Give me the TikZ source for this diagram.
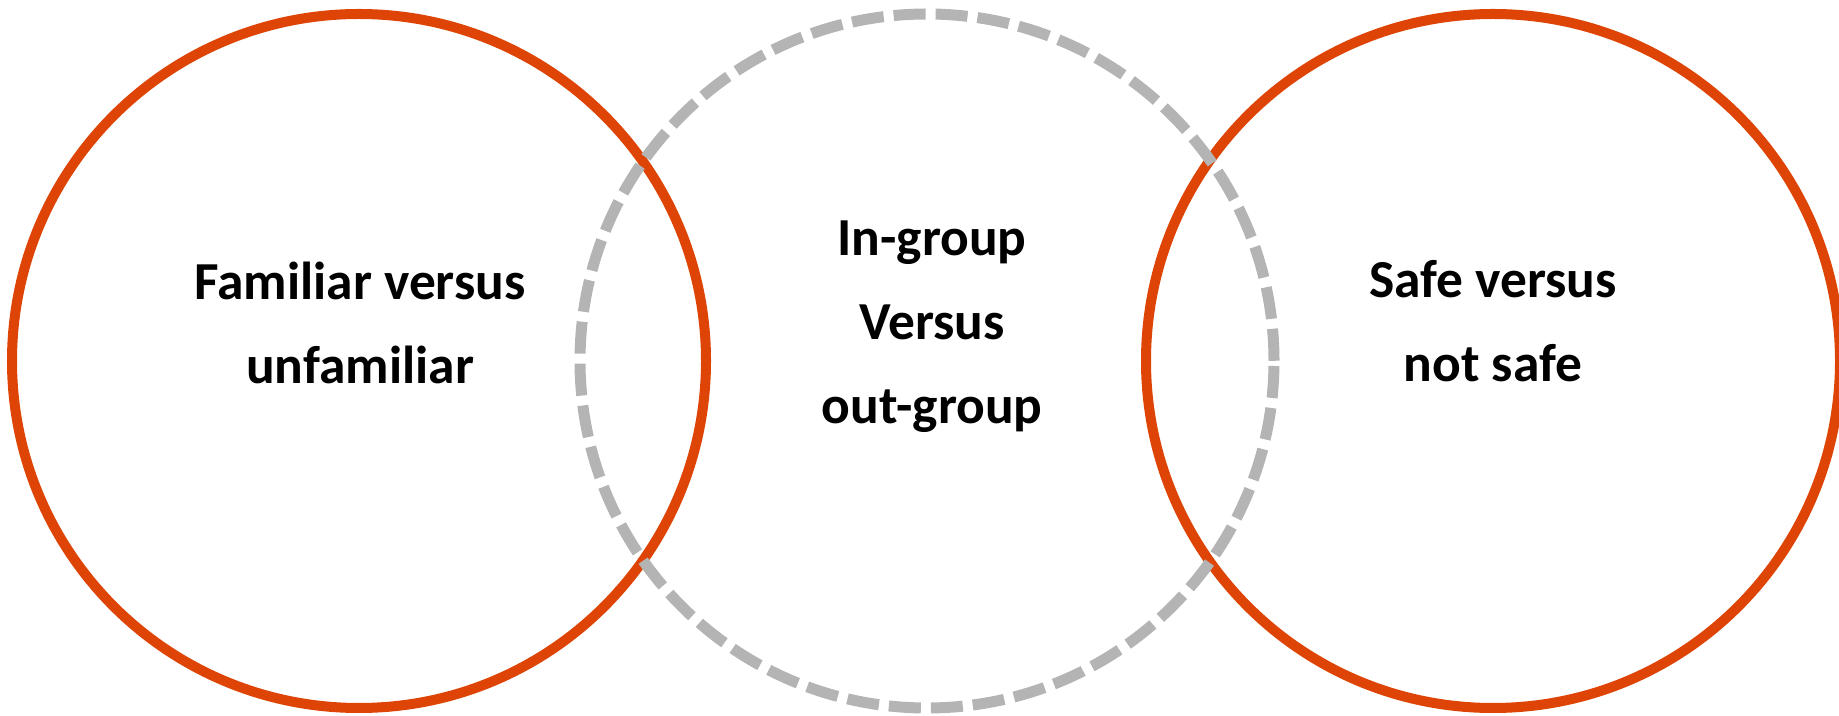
\documentclass[tikz,border=0pt]{standalone}
\usepackage{fontspec}
\setmainfont{Carlito}
\definecolor{ringorange}{RGB}{221,68,5}
\definecolor{ringgray}{RGB}{180,180,180}

\begin{document}
\begin{tikzpicture}[x=0.01cm,y=-0.01cm,
	ring/.style={draw=ringorange,line width=0.1cm},
	dashring/.style={draw=ringgray,line width=0.11cm,dash pattern=on 0.32cm off 0.1cm,dash phase=0.37cm},
	txt/.style={align=center,font=\fontsize{15.2}{23.9}\selectfont\bfseries}]
		\def\rad{347}
		\useasboundingbox (0,0) rectangle (1839,716);
		\coordinate (Left) at (359,361);
		\coordinate (Mid) at (927,361);
		\coordinate (Right) at (1493,361);
		% the three rings, dashed one on top
		\draw[ring] (Left) circle[radius=\rad];
		\draw[ring] (Right) circle[radius=\rad];
		\draw[dashring] (Mid) circle[radius=\rad];
		% labels
		\node[txt] (familiar) at (360,323) {Familiar versus\\unfamiliar};
		\node[txt] (ingroup) at (932,327) {In-group\\Versus\\out-group};
		\node[txt] (safe) at (1493,321) {Safe versus\\not safe};
	\end{tikzpicture}
\end{document}
